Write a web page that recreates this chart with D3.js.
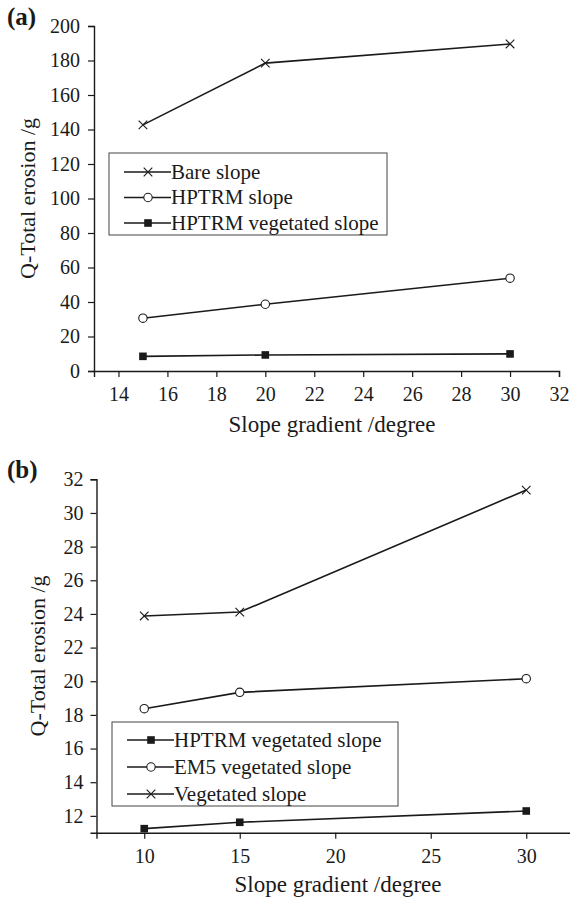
<!DOCTYPE html>
<html>
<head>
<meta charset="utf-8">
<script src="https://cdn.jsdelivr.net/npm/d3@7"></script>
<style>
  html, body { margin: 0; padding: 0; background: #fff; }
  svg { display: block; }
  text { font-family: "Liberation Serif", "Times New Roman", serif; fill: #1a1a1a; }
</style>
</head>
<body>
<script>
// ---- data ----
const slopeA = [15, 20, 30];
const bareA = [142.7, 178.5, 189.6];
const hptrmA = [30.6, 38.7, 53.8];
const hptrmVegA = [8.5, 9.3, 9.9];
const legendA = ["Bare slope", "HPTRM slope", "HPTRM vegetated slope"];
const xTicksA = [14, 16, 18, 20, 22, 24, 26, 28, 30, 32];
const yTicksA = [0, 20, 40, 60, 80, 100, 120, 140, 160, 180, 200];

const slopeB = [10, 15, 30];
const hptrmVegB = [11.24, 11.62, 12.29];
const em5VegB = [18.37, 19.34, 20.15];
const vegB = [23.88, 24.11, 31.36];
const legendB = ["HPTRM vegetated slope", "EM5 vegetated slope", "Vegetated slope"];
const xTicksB = [10, 15, 20, 25, 30];
const yTicksB = [12, 14, 16, 18, 20, 22, 24, 26, 28, 30, 32];

const W = 570, H = 901;
const ink = "#1a1a1a";

const svg = d3.select("body").append("svg")
  .attr("width", W).attr("height", H)
  .attr("xmlns", "http://www.w3.org/2000/svg");

function marker(g, type, x, y) {
  if (type === "cross") {
    g.append("path")
      .attr("d", `M${x - 4.3},${y - 4.3}L${x + 4.3},${y + 4.3}M${x - 4.3},${y + 4.3}L${x + 4.3},${y - 4.3}`)
      .attr("stroke", ink).attr("stroke-width", 1.1).attr("fill", "none");
  } else if (type === "circle") {
    g.append("circle").attr("cx", x).attr("cy", y).attr("r", 4.2)
      .attr("fill", "#fff").attr("stroke", ink).attr("stroke-width", 1.1);
  } else {
    g.append("rect").attr("x", x - 3.8).attr("y", y - 3.8)
      .attr("width", 7.6).attr("height", 7.6).attr("fill", ink);
  }
}

function panel(p) {
  const g = svg.append("g");
  const x = d3.scaleLinear().domain(p.xDomain).range(p.xRange);
  const y = d3.scaleLinear().domain(p.yDomain).range(p.yRange);
  const y0 = p.yRange[0], x0 = p.xRange[0];

  // minor ticks first, then major with labels
  const ax = g.append("g").attr("transform", `translate(0,${y0})`);
  ax.call(d3.axisBottom(x).tickValues(p.xMinor).tickSize(3).tickFormat(""));
  ax.call(d3.axisBottom(x).tickValues(p.xTicks).tickSize(6).tickPadding(10).tickFormat(d3.format("d")));
  const ay = g.append("g").attr("transform", `translate(${x0},0)`);
  ay.call(d3.axisLeft(y).tickValues(p.yMinor).tickSize(3).tickFormat(""));
  ay.call(d3.axisLeft(y).tickValues(p.yTicks).tickSize(6).tickPadding(p.yPad).tickFormat(d3.format("d")));
  g.selectAll(".domain").attr("stroke", ink).attr("stroke-width", 1.4);
  g.selectAll(".tick line").attr("stroke", ink).attr("stroke-width", 1.2);
  g.selectAll(".tick text").style("font-size", "20px")
    .style("font-family", '"Liberation Serif", serif').attr("fill", ink);

  // axis titles
  g.append("text").attr("x", p.xTitleX).attr("y", p.xTitleY)
    .attr("text-anchor", "middle").style("font-size", "23px").text("Slope gradient /degree");
  g.append("text")
    .attr("transform", `translate(${p.yTitleX},${(p.yRange[0] + p.yRange[1]) / 2}) rotate(-90)`)
    .attr("text-anchor", "middle").style("font-size", "22px").text("Q-Total erosion /g");

  // panel letter
  g.append("text").attr("x", 7).attr("y", p.letterY)
    .style("font-size", "25px").style("font-weight", "bold").text(p.letter);

  // series
  const line = d3.line().x(d => x(d[0])).y(d => y(d[1]));
  p.series.forEach(s => {
    const pts = p.xs.map((v, i) => [v, s.values[i]]);
    g.append("path").datum(pts).attr("d", line)
      .attr("fill", "none").attr("stroke", ink).attr("stroke-width", 1.6);
    pts.forEach(d => marker(g, s.type, x(d[0]), y(d[1])));
  });

  // legend
  const L = p.legend;
  g.append("rect").attr("x", L.x).attr("y", L.y).attr("width", L.w).attr("height", L.h)
    .attr("fill", "#fff").attr("stroke", "#444").attr("stroke-width", 1);
  p.series.forEach((s, i) => {
    const cy = L.y + L.first + i * L.step;
    g.append("line").attr("x1", L.x + 15).attr("x2", L.x + 62).attr("y1", cy).attr("y2", cy)
      .attr("stroke", ink).attr("stroke-width", 1.6);
    marker(g, s.type, L.x + 39, cy);
    g.append("text").attr("x", L.x + 62).attr("y", cy).attr("dy", "0.33em")
      .style("font-size", "21px").text(s.name);
  });
}

panel({
  letter: "(a)", letterY: 25,
  xDomain: [13, 32], xRange: [94, 559],
  yDomain: [0, 200], yRange: [371, 26],
  xTicks: xTicksA, xMinor: d3.range(13, 32, 2),
  yTicks: yTicksA, yMinor: d3.range(10, 200, 20),
  yPad: 8, xTitleX: 332, xTitleY: 432, yTitleX: 35,
  xs: slopeA,
  series: [
    { name: legendA[0], values: bareA, type: "cross" },
    { name: legendA[1], values: hptrmA, type: "circle" },
    { name: legendA[2], values: hptrmVegA, type: "square" }
  ],
  legend: { x: 109, y: 153, w: 278, h: 82, first: 19, step: 25.5 }
});

panel({
  letter: "(b)", letterY: 478,
  xDomain: [7.5, 32.5], xRange: [96.5, 574],
  yDomain: [11, 32], yRange: [832.7, 479.3],
  xTicks: xTicksB, xMinor: [7.5, 12.5, 17.5, 22.5, 27.5, 32.5],
  yTicks: yTicksB, yMinor: d3.range(11, 32, 2),
  yPad: 7, xTitleX: 338, xTitleY: 892, yTitleX: 45,
  xs: slopeB,
  series: [
    { name: legendB[0], values: hptrmVegB, type: "square" },
    { name: legendB[1], values: em5VegB, type: "circle" },
    { name: legendB[2], values: vegB, type: "cross" }
  ],
  legend: { x: 112, y: 722, w: 286, h: 84, first: 18, step: 27 }
});
</script>
</body>
</html>
